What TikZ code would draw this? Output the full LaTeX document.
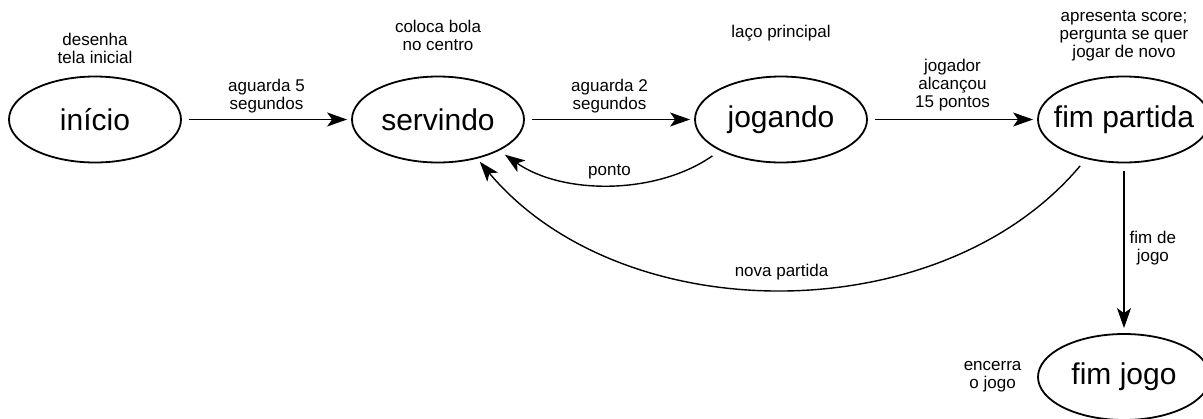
\documentclass[tikz,border=0pt]{standalone}
\usepackage{fontspec}
\setmainfont{Liberation Sans}
\usetikzlibrary{shapes.geometric,positioning,arrows.meta}
\tikzset{
->,
>={Stealth[length=20pt,width=14pt,inset=5pt]},
shorten >=4pt,
shorten <=7pt,
estado/.style={ellipse, draw, line width=1.8pt, minimum width=172pt, minimum height=86pt,
  inner xsep=-12pt, inner ysep=0pt, font=\fontsize{30}{36}\selectfont},
rotulo/.style={font=\fontsize{17}{18}\selectfont, align=center, inner sep=3pt},
nota/.style={rotulo, inner sep=0pt},
}

\begin{document}
\begin{tikzpicture}[x=1pt, y=1pt, node distance=343pt, line width=1.4pt]
        \useasboundingbox (0,0) rectangle (1203,-418);

        \node[estado] (ini) at (95,-119.5) {início};
        \node[estado, right of=ini] (srv) {servindo};
        \node[estado, right of=srv] (jog) {jogando};
        \node[estado, right of=jog] (fp) {fim partida};
        \node[estado, below of=fp, node distance=257.5pt] (fj) {fim jogo};

        % o que cada estado faz
        \node[nota, above=11pt of ini] (nini) {desenha\\tela inicial};
        \node[nota, above=24pt of srv] (nsrv) {coloca bola\\no centro};
        \node[nota, above=34pt of jog] (njog) {laço principal};
        \node[nota, above=14pt of fp] (nfp) {apresenta score;\\pergunta se quer\\jogar de novo};
        \node[rotulo, left=12pt of fj] (nfj) {encerra\\o jogo};

        \path (ini) edge node[rotulo, above=3pt]{aguarda 5\\segundos} (srv);
        \path (srv) edge node[rotulo, above=3pt]{aguarda 2\\segundos} (jog);
        \path (jog) edge node[rotulo, above=5pt]{jogador\\alcançou\\15 pontos} (fp);
        \path (fp) edge[shorten <=8pt, shorten >=5pt] node[rotulo, right=2pt]{fim de\\jogo} (fj);
        \path (jog.207) edge[out=215, in=-35, looseness=0.9, shorten <=9pt, shorten >=7pt]
            node[rotulo, above=1pt]{ponto} (srv.-27);
        \path (fp.226) edge[out=230, in=-50, looseness=0.95, shorten <=9pt, shorten >=4pt]
            node[rotulo, above=5pt]{nova partida} (srv.-45);

    \end{tikzpicture}
\end{document}
